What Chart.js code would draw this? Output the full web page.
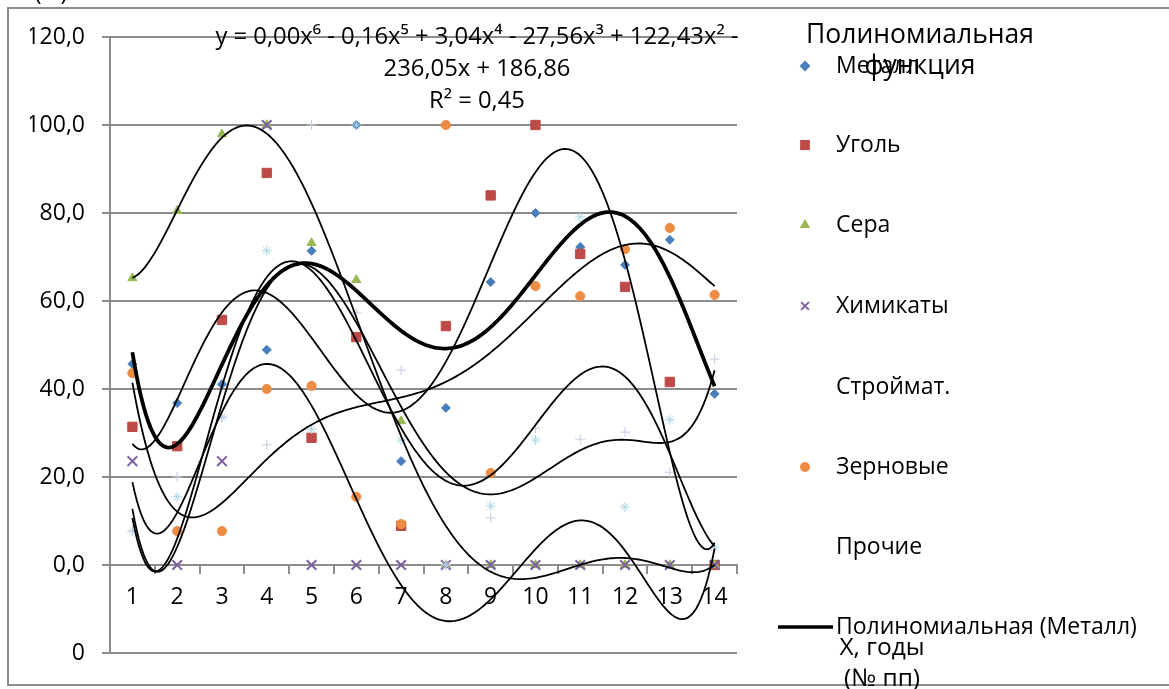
<!DOCTYPE html>
<html>
<head>
<meta charset="utf-8">
<script src="https://cdn.jsdelivr.net/npm/chart.js@4/dist/chart.umd.min.js"></script>
<style>
  html, body { margin: 0; padding: 0; background: #fff; }
</style>
</head>
<body>
<canvas id="chart" width="1169" height="689"></canvas>
<script>
// данные (значения по годам, № пп)
var years = [1, 2, 3, 4, 5, 6, 7, 8, 9, 10, 11, 12, 13, 14];
var metall = [45.7, 36.8, 41.1, 48.9, 71.4, 100, 23.6, 35.7, 64.3, 80.0, 72.3, 68.2, 73.9, 38.9];
var ugol = [31.4, 27.0, 55.7, 89.1, 28.9, 51.8, 8.9, 54.3, 84.0, 100, 70.7, 63.2, 41.6, 0];
var sera = [65.2, 80.5, 97.9, 100, 73.2, 64.8, 32.7, 0, 0, 0, 0, 0, 0, 0];
var khimikaty = [23.6, 0, 23.6, 100, 0, 0, 0, 0, 0, 0, 0, 0, 0, 0];
var stroimat = [7.7, 15.5, 33.6, 71.4, 30.9, 100, 28.4, 0, 13.4, 28.4, 79.1, 13.2, 33.0, 4.1];
var zernovye = [43.6, 7.7, 7.7, 40.0, 40.7, 15.5, 9.3, 100, 20.9, 63.4, 61.1, 71.8, 76.6, 61.4];
var prochie = [7.7, 20.0, 33.6, 27.3, 100, 57.3, 44.3, 0, 10.7, 31.1, 28.6, 30.2, 21.1, 46.8];

var seriesNames = ['Металл', 'Уголь', 'Сера', 'Химикаты', 'Строймат.', 'Зерновые', 'Прочие'];
var seriesValues = [metall, ugol, sera, khimikaty, stroimat, zernovye, prochie];
var seriesColors = ['#4a7ebb', '#be4b48', '#98b954', '#7d60a0', '#a9d5e4', '#ec8c45', '#c3cbe6'];
var seriesStyles = ['rectRot', 'rect', 'triangle', 'crossRot', 'star', 'circle', 'cross'];
var seriesRadius = [4.5, 6.6, 5.2, 6.8, 5, 4.6, 5];
var seriesBorder = [1, 1, 1, 2, 1, 1, 1];

var trendLabel = 'Полиномиальная (Металл)';
var equationLines = ['y = 0,00x⁶ - 0,16x⁵ + 3,04x⁴ - 27,56x³ + 122,43x² -', '236,05x + 186,86', 'R² = 0,45'];
var legendTitle = ['Полиномиальная', 'функция'];
var xTitle = ['X, годы', '(№ пп)'];
var yTitle = '(%)';

Chart.defaults.font.family = "'Open Sans', sans-serif";
Chart.defaults.font.size = 23;
Chart.defaults.color = '#000';

// полиномиальный тренд 6-й степени (МНК), как в Excel
function polyFit(xs, ys, degree) {
  var n = degree + 1, mid = 7.5, half = 6.5;
  var A = [], b = [];
  for (var r = 0; r < n; r++) { A.push(new Array(n).fill(0)); b.push(0); }
  xs.forEach(function (x, k) {
    if (ys[k] === null) return;
    var t = (x - mid) / half, pw = [];
    for (var j = 0; j < n; j++) pw.push(Math.pow(t, j));
    for (var r = 0; r < n; r++) {
      b[r] += pw[r] * ys[k];
      for (var c = 0; c < n; c++) A[r][c] += pw[r] * pw[c];
    }
  });
  for (var i = 0; i < n; i++) {
    var p = i;
    for (var q = i + 1; q < n; q++) if (Math.abs(A[q][i]) > Math.abs(A[p][i])) p = q;
    var tmp = A[i]; A[i] = A[p]; A[p] = tmp;
    var tb = b[i]; b[i] = b[p]; b[p] = tb;
    for (var q2 = i + 1; q2 < n; q2++) {
      var f = A[q2][i] / A[i][i];
      for (var c2 = i; c2 < n; c2++) A[q2][c2] -= f * A[i][c2];
      b[q2] -= f * b[i];
    }
  }
  var coef = new Array(n).fill(0);
  for (var i2 = n - 1; i2 >= 0; i2--) {
    var s = b[i2];
    for (var c3 = i2 + 1; c3 < n; c3++) s -= A[i2][c3] * coef[c3];
    coef[i2] = s / A[i2][i2];
  }
  return function (x) {
    var t = (x - mid) / half, v = 0;
    for (var j = n - 1; j >= 0; j--) v = v * t + coef[j];
    return v;
  };
}

function trendPoints(values) {
  var fit = polyFit(years, values, 6);
  var xs = years.filter(function (x, i) { return values[i] !== null; });
  var pts = [];
  for (var x = xs[0]; x <= xs[xs.length - 1] + 1e-9; x += 0.05) pts.push({ x: x, y: fit(x) });
  return pts;
}

var datasets = [];
seriesNames.forEach(function (name, i) {
  datasets.push({
    label: name,
    data: years.map(function (x, k) { return { x: x, y: seriesValues[i][k] }; }),
    pointStyle: seriesStyles[i],
    pointRadius: seriesRadius[i],
    pointBorderWidth: seriesBorder[i],
    backgroundColor: seriesColors[i],
    borderColor: seriesColors[i],
    showLine: false,
    order: 20 - i
  });
});
seriesNames.forEach(function (name, i) {
  datasets.push({
    label: i === 0 ? trendLabel : 'trend ' + name,
    data: trendPoints(seriesValues[i]),
    showLine: true,
    pointRadius: 0,
    borderColor: '#000',
    borderWidth: i === 0 ? 3.8 : 1.8,
    tension: 0,
    clip: false,
    order: 0
  });
});

var decor = {
  id: 'decor',
  afterDraw: function (chart) {
    var ctx = chart.ctx;
    var H = Chart.helpers;
    ctx.save();
    // рамка диаграммы
    ctx.strokeStyle = '#8c8c8c';
    ctx.lineWidth = 2;
    ctx.beginPath();
    ctx.moveTo(1169, 8); ctx.lineTo(8, 8); ctx.lineTo(8, 685); ctx.lineTo(1169, 685);
    ctx.stroke();
    // подпись -20 перекрыта
    ctx.fillStyle = '#fff';
    ctx.fillRect(10, 638, 63, 34);

    ctx.fillStyle = '#000';
    ctx.textBaseline = 'middle';
    ctx.textAlign = 'center';
    ctx.font = "23.8px 'Open Sans', sans-serif";
    equationLines.forEach(function (t, i) { ctx.fillText(t, 477, 37 + i * 32); });
    ctx.font = "23px 'Open Sans', sans-serif";
    ctx.fillText(yTitle, 51, -7);
    ctx.font = "26.5px 'Open Sans', sans-serif";
    ctx.fillText(legendTitle[0], 920, 35);

    // легенда
    ctx.font = "23px 'Open Sans', sans-serif";
    ctx.textAlign = 'left';
    var rowY = [66, 145, 225, 306, 387, 467, 547];
    seriesNames.forEach(function (name, i) {
      ctx.fillStyle = '#000';
      ctx.fillText(name, 836, rowY[i]);
      if (i === 4 || i === 6) return;
      ctx.fillStyle = seriesColors[i];
      ctx.strokeStyle = seriesColors[i];
      H.drawPoint(ctx, { pointStyle: seriesStyles[i], radius: i === 1 ? 5.5 : (i === 3 ? 5.5 : 4), borderWidth: i === 3 ? 2 : 1, rotation: 0 }, 805, rowY[i]);
    });
    ctx.strokeStyle = '#000';
    ctx.lineWidth = 3.5;
    ctx.beginPath(); ctx.moveTo(778, 627); ctx.lineTo(833, 627); ctx.stroke();
    ctx.fillStyle = '#000';
    ctx.fillText(trendLabel, 836, 627);

    ctx.textAlign = 'center';
    ctx.font = "26.5px 'Open Sans', sans-serif";
    ctx.fillText(legendTitle[1], 920, 66);
    ctx.font = "24.5px 'Open Sans', sans-serif";
    ctx.fillText(xTitle[0], 882, 648);
    ctx.fillText(xTitle[1], 882, 679);
    ctx.restore();
  }
};

new Chart(document.getElementById('chart'), {
  type: 'scatter',
  data: { datasets: datasets },
  options: {
    responsive: false,
    animation: false,
    layout: { padding: { left: 30, top: 37, right: 432, bottom: 36 } },
    plugins: { legend: { display: false }, tooltip: { enabled: false } },
    scales: {
      x: {
        type: 'linear',
        axis: 'x',
        position: { y: 0 },
        min: 0.5,
        max: 14.5,
        afterBuildTicks: function (scale) {
          var t = [];
          for (var v = 0.5; v <= 14.5; v += 0.5) t.push({ value: v });
          scale.ticks = t;
        },
        ticks: {
          autoSkip: false,
          maxRotation: 0,
          padding: 11,
          callback: function (v) { return Number.isInteger(v) ? String(v) : ''; }
        },
        grid: {
          drawOnChartArea: false,
          tickLength: 8,
          lineWidth: 2,
          tickColor: function (c) { return c.tick && Number.isInteger(c.tick.value) ? 'rgba(0,0,0,0)' : '#8c8c8c'; }
        },
        border: { display: true, color: '#8c8c8c', width: 2 }
      },
      y: {
        min: -20,
        max: 120,
        afterFit: function (scale) { scale.width = 80; },
        ticks: {
          stepSize: 20,
          padding: 17,
          callback: function (v) { return v.toFixed(1).replace('.', ','); }
        },
        grid: { color: '#8c8c8c', lineWidth: 2, tickLength: 8 },
        border: { color: '#8c8c8c', width: 2 }
      }
    }
  },
  plugins: [decor]
});
</script>
</body>
</html>
